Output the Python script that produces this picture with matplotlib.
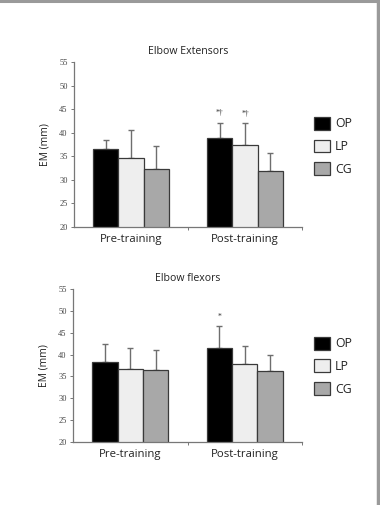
import matplotlib
matplotlib.use("Agg")
import matplotlib.pyplot as plt
import numpy as np
from matplotlib.patches import Patch
from matplotlib.lines import Line2D

groups = ["Pre-training", "Post-training"]
series = ["OP", "LP", "CG"]
colors = ["#000000", "#eeeeee", "#a8a8a8"]

ext_mean = {"OP": [36.5, 38.9], "LP": [34.7, 37.5], "CG": [32.4, 31.8]}
ext_err = {"OP": [2.0, 3.3], "LP": [5.9, 4.5], "CG": [4.9, 4.0]}
ext_marks = {"OP": ["", "*\u2020"], "LP": ["", "*\u2020"], "CG": ["", ""]}

flx_mean = {"OP": [38.3, 41.6], "LP": [36.7, 37.9], "CG": [36.5, 36.3]}
flx_err = {"OP": [4.1, 5.0], "LP": [4.9, 4.1], "CG": [4.5, 3.7]}
flx_marks = {"OP": ["", "*"], "LP": ["", ""], "CG": ["", ""]}

yticks = [20, 25, 30, 35, 40, 45, 50, 55]

W, H = 380, 505
fig = plt.figure(figsize=(W / 100, H / 100), dpi=100)
fig.patch.set_facecolor("white")

sans = ["Open Sans", "DejaVu Sans"]
serif = ["Liberation Serif", "DejaVu Serif"]

def panel(rect, title, means, errs, marks, leg_y):
    ax = fig.add_axes(rect)
    x = np.arange(len(groups))
    w = 0.222
    for i, s in enumerate(series):
        xs = x + (i - 1) * w
        ax.bar(xs, means[s], width=w, color=colors[i], edgecolor="#3a3a3a",
               linewidth=0.9, zorder=2)
        ax.errorbar(xs, means[s], yerr=[np.zeros(len(groups)), errs[s]],
                    fmt="none", ecolor="#6e6e6e", elinewidth=1.0, capsize=2,
                    capthick=1.0, zorder=1)
        for j in range(len(groups)):
            if marks[s][j]:
                ax.text(xs[j], means[s][j] + errs[s][j] + 1.2, marks[s][j],
                        ha="center", va="bottom", fontsize=5.5,
                        family=serif, color="#333333")
    ax.set_xlim(-0.5, 1.5)
    ax.set_ylim(20, 55)
    ax.set_yticks(yticks)
    ax.set_yticklabels([str(t) for t in yticks], family=serif, fontsize=6,
                       color="#444444")
    ax.set_xticks([0.5, 1.5])
    ax.set_xticklabels([])
    ax.tick_params(axis="x", length=2, width=0.7, color="#777777")
    ax.tick_params(axis="y", length=2.5, width=0.7, color="#777777", pad=2)
    for g, gx in zip(groups, x):
        ax.text(gx, -0.045, g, transform=ax.get_xaxis_transform(),
                ha="center", va="top", fontsize=8.2, family=sans,
                color="#222222")
    for sp in ["top", "right"]:
        ax.spines[sp].set_visible(False)
    for sp in ["left", "bottom"]:
        ax.spines[sp].set_color("#777777")
        ax.spines[sp].set_linewidth(0.9)
    ax.set_ylabel("EM (mm)", family=sans, fontsize=7.4, color="#222222",
                  labelpad=6)
    ax.set_title(title, family=sans, fontsize=7.6, color="#222222", pad=6)
    handles = [Patch(facecolor=colors[i], edgecolor="#3a3a3a", linewidth=0.9)
               for i in range(len(series))]
    leg = ax.legend(handles, series, loc="center left",
                    bbox_to_anchor=(1.0, leg_y), frameon=False,
                    prop={"family": sans, "size": 8.8}, handlelength=1.3,
                    handleheight=1.25, labelspacing=0.75, handletextpad=0.4,
                    borderaxespad=0.6)
    for t in leg.get_texts():
        t.set_color("#222222")
    return ax

panel([74 / W, 1 - 227 / H, 228 / W, 164.7 / H], "Elbow Extensors",
      ext_mean, ext_err, ext_marks, 0.49)
panel([73 / W, 1 - 442 / H, 229 / W, 153 / H], "Elbow flexors",
      flx_mean, flx_err, flx_marks, 0.495)

# page border (top and right)
fig.add_artist(Line2D([0, 1], [1 - 1 / H, 1 - 1 / H], transform=fig.transFigure,
                      color="#9a9a9a", linewidth=2.2))
fig.add_artist(Line2D([1 - 2 / W, 1 - 2 / W], [0, 1], transform=fig.transFigure,
                      color="#9a9a9a", linewidth=2.5))

fig.savefig("out.png", dpi=100, facecolor="white")
